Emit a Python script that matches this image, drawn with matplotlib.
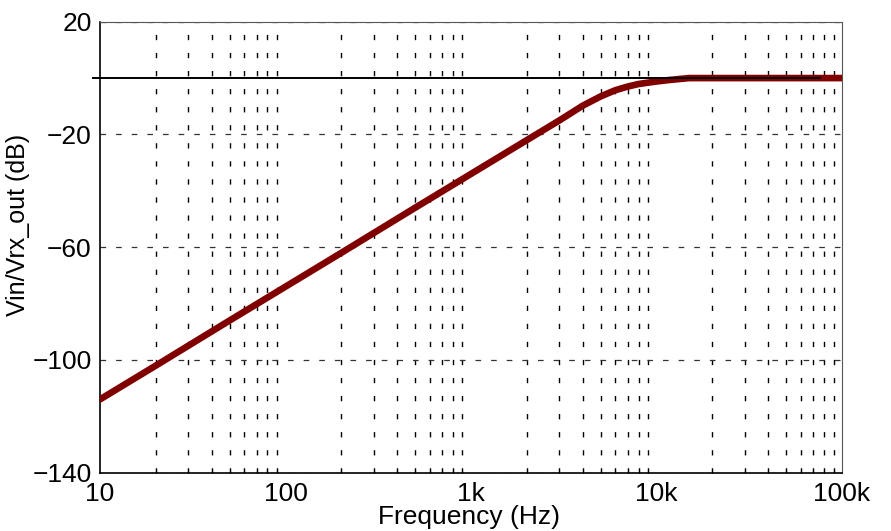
import numpy as np
import matplotlib
matplotlib.use('Agg')
import matplotlib.pyplot as plt
from matplotlib.ticker import FixedLocator, NullFormatter

plt.rcParams['font.family'] = ['Liberation Sans', 'DejaVu Sans']

# response
freq = [10, 20, 50, 100, 200, 500, 1000, 2000, 3000, 4000, 5000, 6000,
        7000, 8000, 10000, 12000, 15000, 20000, 50000, 100000]
gain_db = [-114, -102, -86, -74, -62, -46, -34, -22, -15, -9.8, -6.5, -4.3,
           -3.0, -2.1, -1.2, -0.6, 0, 0, 0, 0]

xticks = [10, 100, 1000, 10000, 100000]
xtick_labels = ['10', '100', '1k', '10k', '100k']
yticks = [20, -20, -60, -100, -140]
ytick_labels = ['20', '\u221220', '\u221260', '\u2212100', '\u2212140']

fig = plt.figure(figsize=(8.91, 5.31), dpi=100)
ax = fig.add_axes([0.1122, 0.1098, 0.8328, 0.8493])

ax.plot(freq, gain_db, color='#800000', lw=4.8, solid_capstyle='round', zorder=3)
ax.axhline(0, xmin=-0.0094, xmax=0.970, color='black', lw=1.4, clip_on=False, zorder=4)

ax.set_xscale('log')
ax.set_xlim(10, 100000)
ax.set_ylim(-140, 20)

ax.xaxis.set_major_locator(FixedLocator(xticks))
ax.set_xticklabels(xtick_labels)
minor = [m * 10 ** d for d in range(1, 5) for m in range(2, 10)]
ax.xaxis.set_minor_locator(FixedLocator(minor))
ax.xaxis.set_minor_formatter(NullFormatter())
ax.set_yticks(yticks)
ax.set_yticklabels(ytick_labels)

ax.grid(axis='x', which='minor', color='black', lw=1.0, linestyle=(0, (3.8, 9.2)))
ax.grid(axis='y', which='major', color='#333333', lw=0.9, linestyle=(0, (4.5, 8)))
ax.grid(axis='x', which='major', visible=False)

ax.tick_params(axis='both', which='both', direction='in', labelsize=19)
ax.tick_params(axis='x', which='major', length=0, pad=7)
ax.tick_params(axis='x', which='minor', length=3, width=0.8)
ax.tick_params(axis='y', which='major', length=0, pad=6)

for side in ['top', 'right']:
    ax.spines[side].set_color('#555555')
for side in ['left', 'bottom']:
    ax.spines[side].set_color('black')
    ax.spines[side].set_linewidth(1.2)

ax.set_xlabel('Frequency (Hz)', fontsize=19)
ax.xaxis.set_label_coords(0.497, -0.071)
ax.set_ylabel('Vin/Vrx_out (dB)', fontsize=18)
ax.yaxis.set_label_coords(-0.094, 0.55)

fig.savefig('out.png', dpi=100)
